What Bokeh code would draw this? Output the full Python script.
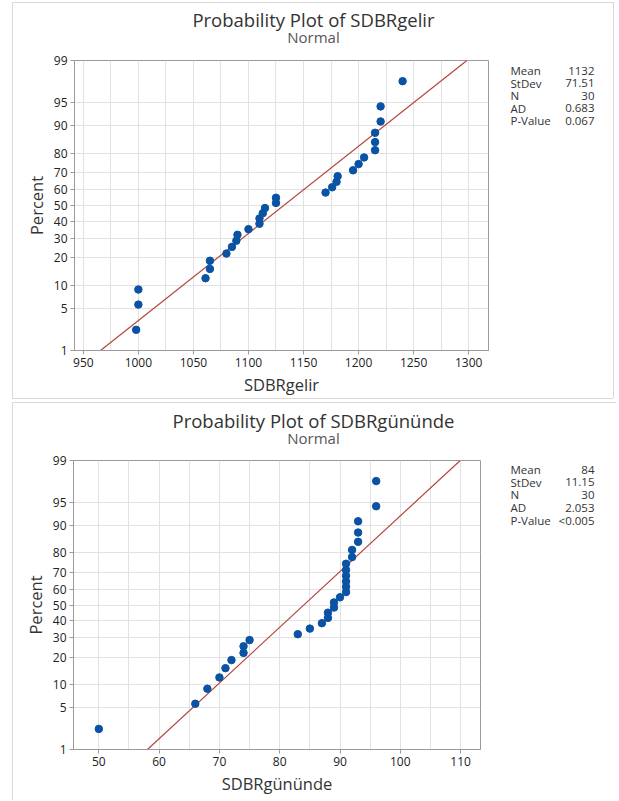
from statistics import NormalDist
from bokeh.plotting import figure
from bokeh.models import FixedTicker, CustomJSTickFormatter, Range1d, ColumnDataSource
from bokeh.layouts import column, row
from bokeh.core.properties import value
from bokeh.embed import file_html
from bokeh.resources import INLINE

# ---------------- data ----------------
gelir = [998, 1000, 1000, 1061, 1065, 1065, 1080, 1085, 1089, 1090, 1100, 1110, 1110, 1113, 1115,
         1125, 1125, 1170, 1176, 1180, 1181, 1195, 1200, 1205, 1215, 1215, 1215, 1220, 1220, 1240]
gununde = [50, 66, 68, 70, 71, 72, 74, 74, 75, 83, 85, 87, 88, 88, 89, 89, 90,
           91, 91, 91, 91, 91, 91, 92, 92, 93, 93, 93, 96, 96]

pct_ticks = [1, 5, 10, 20, 30, 40, 50, 60, 70, 80, 90, 95, 99]
stat_names = ["Mean", "StDev", "N", "AD", "P-Value"]
gelir_stats = ["1132", "71.51", "30", "0.683", "0.067"]
gununde_stats = ["84", "11.15", "30", "2.053", "<0.005"]
gelir_mean, gelir_sd = 1132, 71.51
gununde_mean, gununde_sd = 84, 11.15
gelir_xticks = [950, 1000, 1050, 1100, 1150, 1200, 1250, 1300]
gelir_xgrid = [975, 1025, 1075, 1125, 1175, 1225, 1275]
gununde_xticks = [50, 60, 70, 80, 90, 100, 110]
gununde_xgrid = [55, 65, 75, 85, 95, 105]

FONT = "Open Sans"
TOTAL_W = 616
nd = NormalDist()


def zq(p):
    return nd.inv_cdf(p / 100.0)


def blank(width, height, top=0, bottom=0):
    f = figure(width=width, height=height, output_backend="svg", toolbar_location=None,
               x_range=Range1d(0, width), y_range=Range1d(0, height - top - bottom),
               x_axis_type=None, y_axis_type=None, min_border=0,
               min_border_left=0, min_border_right=0,
               min_border_top=top, min_border_bottom=bottom)
    f.outline_line_color = None
    f.grid.visible = False
    f.background_fill_alpha = 0
    f.border_fill_alpha = 0
    return f


def panel(values, mean, sd, stats, xlabel, title, xrange_, xticks, xminor,
          height, title_h, b_left, f_w, b_top, f_h, title_y, normal_y,
          stat_x0, stat_x1, stat_y0, stat_dy, border_css):
    n = len(values)
    xs = sorted(values)
    zs = [zq(100.0 * (i + 1 - 0.3) / (n + 0.4)) for i in range(n)]
    zlo, zhi = zq(pct_ticks[0]), zq(pct_ticks[-1])

    # ---- title strip ----
    t = blank(TOTAL_W, title_h)
    t.text(x=[313], y=[title_h - title_y], text=[title], text_align="center",
           text_baseline="middle", text_font=value(FONT), text_font_size=value("18.5px"),
           text_color="#333333")
    t.text(x=[313], y=[title_h - normal_y], text=["Normal"], text_align="center",
           text_baseline="middle", text_font=value(FONT), text_font_size=value("15px"),
           text_color="#555555")

    # ---- main plot ----
    mh = height - title_h
    mw = b_left + f_w + 6
    b_bottom = mh - b_top - f_h
    p = figure(width=mw, height=mh, output_backend="svg", toolbar_location=None,
               x_range=Range1d(*xrange_), y_range=Range1d(zlo, zhi),
               min_border_left=b_left, min_border_right=6,
               min_border_top=b_top, min_border_bottom=b_bottom)
    p.background_fill_color = "white"
    p.border_fill_alpha = 0
    p.outline_line_color = "#9a9a9a"
    p.outline_line_width = 1

    p.xaxis.ticker = FixedTicker(ticks=xticks, minor_ticks=xminor)
    zt = [zq(v) for v in pct_ticks]
    p.yaxis.ticker = FixedTicker(ticks=zt)
    p.yaxis.formatter = CustomJSTickFormatter(
        args=dict(zs=zt, labs=[str(v) for v in pct_ticks]),
        code="""
        let b = 0, bd = Infinity;
        for (let i = 0; i < zs.length; i++) {
          const d = Math.abs(zs[i] - tick);
          if (d < bd) { bd = d; b = i; }
        }
        return labs[b];
        """)
    for ax in (p.xaxis[0], p.yaxis[0]):
        ax.axis_line_color = "#9a9a9a"
        ax.major_tick_line_color = "#9a9a9a"
        ax.major_tick_out = 4
        ax.major_tick_in = 0
        ax.minor_tick_line_color = None
        ax.major_label_text_font = FONT
        ax.major_label_text_font_size = "12px"
        ax.major_label_text_color = "#222222"
        ax.axis_label_text_font = FONT
        ax.axis_label_text_font_size = "16.5px"
        ax.axis_label_text_font_style = "normal"
        ax.axis_label_text_color = "#333333"
    p.xaxis.axis_label = xlabel
    p.xaxis.major_label_standoff = 3
    p.xaxis.axis_label_standoff = 3
    p.yaxis.axis_label = "Percent"
    p.yaxis.major_label_standoff = 3
    p.yaxis.axis_label_standoff = 3

    p.xgrid.grid_line_color = "#e2e2e2"
    p.xgrid.minor_grid_line_color = "#e2e2e2"
    p.ygrid.grid_line_color = "#e2e2e2"

    p.line(x=[mean + sd * zlo, mean + sd * zhi], y=[zlo, zhi],
           line_color="#b4453f", line_width=1.2)
    src = ColumnDataSource(dict(x=xs, y=zs))
    p.scatter("x", "y", source=src, size=7.5, fill_color="#0a52a3", line_color="#0a52a3")

    # ---- statistics block (frame aligned with the main frame) ----
    sw = TOTAL_W - mw
    s = blank(sw, mh, top=b_top, bottom=b_bottom)
    ys = [f_h - (stat_y0 + stat_dy * k) for k in range(len(stat_names))]
    s.text(x=[stat_x0 - mw] * len(stat_names), y=ys, text=stat_names, text_align="left",
           text_baseline="middle", text_font=value(FONT), text_font_size=value("11.5px"),
           text_color="#333333")
    s.text(x=[stat_x1 - mw] * len(stats), y=ys, text=stats, text_align="right",
           text_baseline="middle", text_font=value(FONT), text_font_size=value("11.5px"),
           text_color="#333333")

    return column(t, row(p, s, spacing=0), spacing=0, styles={"background": border_css})


def css_box(left, top, right, bottom, color="#d9d9d9"):
    g = f"linear-gradient({color},{color})"
    parts = [f"{g} {left}px {top}px / 1px {bottom - top}px no-repeat",
             f"{g} {left}px {top}px / {right - left}px 1px no-repeat"]
    if right < TOTAL_W:
        parts.append(f"{g} {right}px {top}px / 1px {bottom - top}px no-repeat")
    if bottom < 400:
        parts.append(f"{g} {left}px {bottom}px / {right - left}px 1px no-repeat")
    return ", ".join(parts) + ", white"


pan1 = panel(gelir, gelir_mean, gelir_sd, gelir_stats, "SDBRgelir",
             "Probability Plot of SDBRgelir", (942, 1318), gelir_xticks, gelir_xgrid,
             height=400, title_h=48, b_left=74, f_w=414, b_top=12, f_h=290,
             title_y=19, normal_y=36, stat_x0=510, stat_x1=594, stat_y0=10, stat_dy=12.5,
             border_css=css_box(12, 2, 613, 398))
pan2 = panel(gununde, gununde_mean, gununde_sd, gununde_stats, "SDBRgününde",
             "Probability Plot of SDBRgününde", (45.8, 113.3), gununde_xticks, gununde_xgrid,
             height=400, title_h=48, b_left=73, f_w=407, b_top=12, f_h=289,
             title_y=20, normal_y=37, stat_x0=510, stat_x1=594, stat_y0=9, stat_dy=12.7,
             border_css=css_box(12, 2, 700, 420))

layout = column(pan1, pan2, spacing=0)
open("out.html", "w").write(file_html(layout, INLINE))
